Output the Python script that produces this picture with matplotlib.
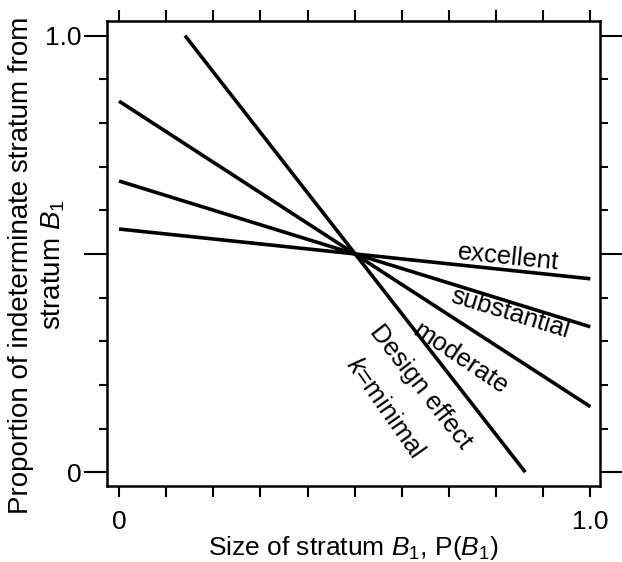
import matplotlib
matplotlib.use('Agg')
import matplotlib.pyplot as plt
import numpy as np

plt.rcParams['font.family'] = ['Liberation Sans', 'DejaVu Sans']
plt.rcParams['mathtext.fontset'] = 'custom'
plt.rcParams['mathtext.rm'] = 'Liberation Sans'
plt.rcParams['mathtext.it'] = 'Liberation Sans:italic'

# lines: (x start, y start) -> (x end, y end), all cross at (0.5, 0.5)
names = ['minimal', 'moderate', 'substantial', 'excellent']
x_start = [0.14, 0.0, 0.0, 0.0]
y_start = [1.0, 0.85, 0.667, 0.557]
x_end = [0.862, 1.0, 1.0, 1.0]
y_end = [0.0, 0.15, 0.333, 0.443]

# line labels
lab_text = ['excellent', 'substantial', 'moderate', 'Design effect', '$k$=minimal']
lab_x = [0.826, 0.83, 0.724, 0.639, 0.565]
lab_y = [0.493, 0.365, 0.261, 0.195, 0.147]
lab_rot = [-6, -17, -34, -52, -55]

xticks = np.arange(0, 1.01, 0.1)
xticklabels = ['0'] + [''] * 9 + ['1.0']

fig = plt.figure(figsize=(6.22, 5.62), dpi=100)
ax = fig.add_axes([0.172, 0.135, 0.793, 0.828])

for i in range(len(names)):
    ax.plot([x_start[i], x_end[i]], [y_start[i], y_end[i]], color='black',
            lw=2.6, solid_capstyle='butt')

for t, x, y, r in zip(lab_text, lab_x, lab_y, lab_rot):
    ax.text(x, y, t, rotation=r, rotation_mode='anchor', ha='center',
            va='center', fontsize=18.5)

ax.set_xlim(-0.0255, 1.021)
ax.set_ylim(-0.032, 1.034)

ax.set_xticks(xticks)
ax.set_xticklabels(xticklabels)
ax.set_yticks([0, 0.5, 1.0])
ax.set_yticklabels(['0', '', '1.0'])
ax.set_yticks(np.arange(0, 1.01, 0.1), minor=True)

ax.tick_params(axis='x', which='major', direction='out', length=8, width=1.5,
               top=True, bottom=True, labelsize=19, pad=9)
ax.tick_params(axis='y', which='major', direction='out', length=16.5, width=1.5,
               left=True, right=True, labelsize=19, pad=2)
ax.tick_params(axis='y', which='minor', direction='out', length=5.5, width=1.5,
               left=True, right=True)

for s in ax.spines.values():
    s.set_linewidth(1.8)

ax.set_xlabel('Size of stratum $B_1$, P($B_1$)', fontsize=19, labelpad=0)

# y label in two rotated lines
ax.text(-0.175, 0.475, 'Proportion of indeterminate stratum from',
        transform=ax.transAxes, rotation=90, ha='center', va='center',
        fontsize=20)
ax.text(-0.108, 0.475, 'stratum $B_1$', transform=ax.transAxes, rotation=90,
        ha='center', va='center', fontsize=20)

fig.savefig('out.png', dpi=100)
